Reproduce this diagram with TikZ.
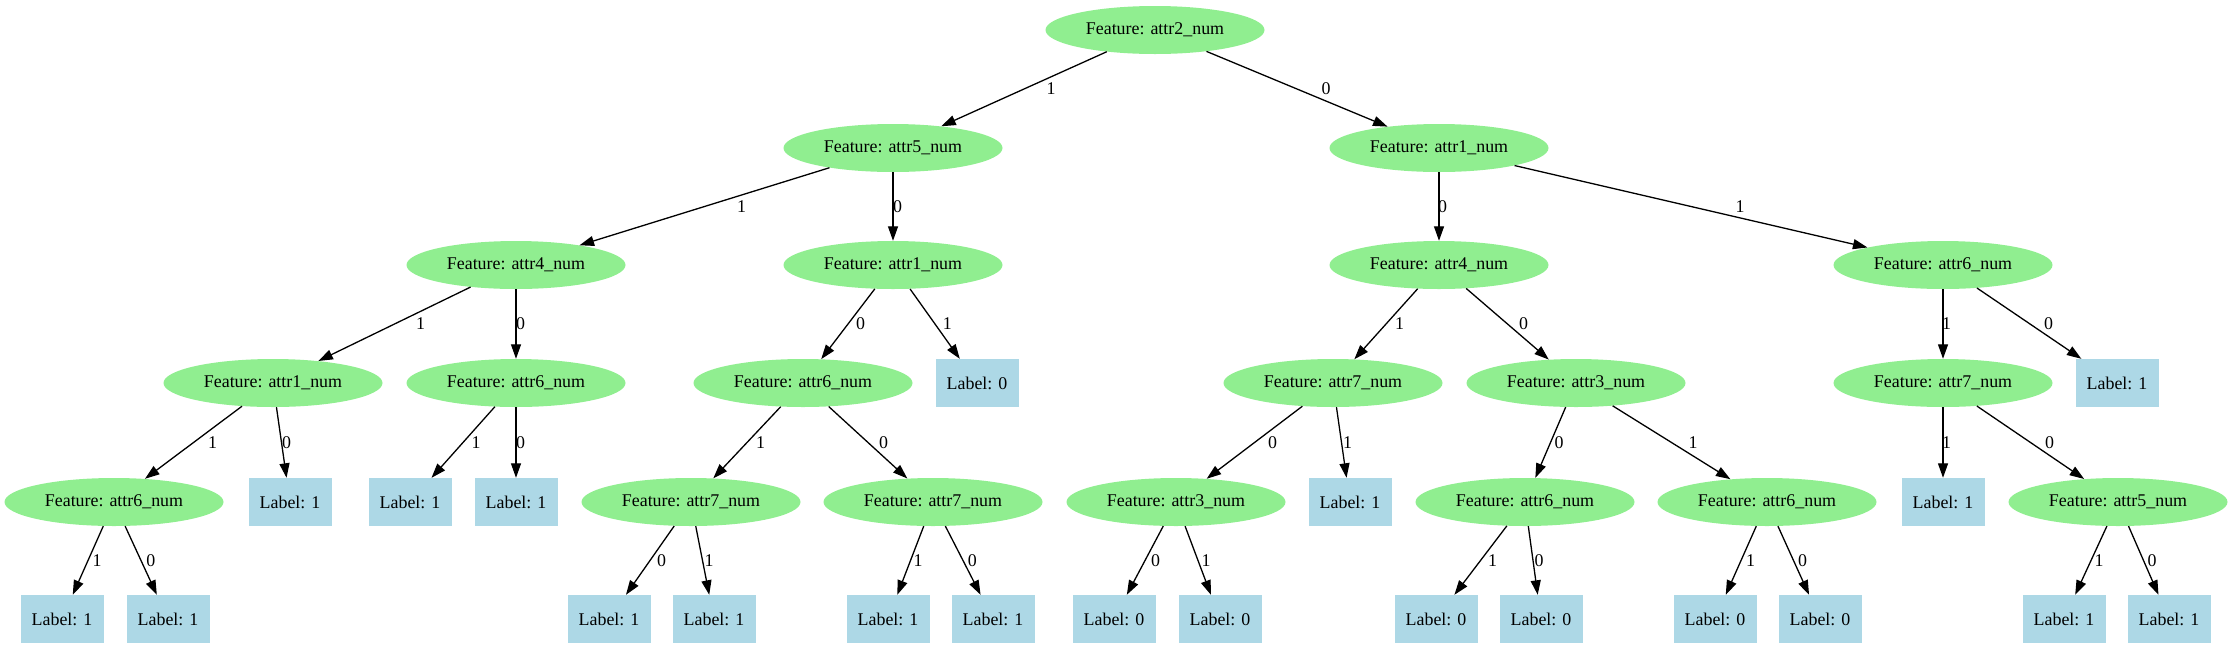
\documentclass[tikz,border=0pt]{standalone}
\usepackage{fontspec}
\setmainfont{Liberation Serif}
\usetikzlibrary{shapes.geometric,arrows.meta}
\definecolor{featgreen}{RGB}{144,238,144}
\definecolor{leafblue}{RGB}{173,216,230}
\tikzset{>={Triangle[length=14.5pt,width=10pt]}}
\tikzset{
  feat/.style={ellipse,fill=featgreen,minimum width=219pt,minimum height=48pt,inner sep=0pt},
  leaf/.style={rectangle,fill=leafblue,minimum width=83pt,minimum height=48pt,inner sep=0pt},
  edge/.style={->,line width=1.3pt},
  lbl/.style={inner sep=0pt,pos=0.5}
}

\begin{document}
\begin{tikzpicture}[x=1pt,y=-1pt,font=\fontsize{17.9}{21}\selectfont]
\useasboundingbox (0,0) rectangle (2232,649);
\node[feat] (r) at (1155,30) {Feature: attr2\_num};
\node[feat] (r1) at (893,148) {Feature: attr5\_num};
\node[feat] (r0) at (1439,148) {Feature: attr1\_num};
\node[feat] (r11) at (516,265) {Feature: attr4\_num};
\node[feat] (r10) at (893,265) {Feature: attr1\_num};
\node[feat] (r00) at (1439,265) {Feature: attr4\_num};
\node[feat] (r01) at (1943,265) {Feature: attr6\_num};
\node[feat] (r111) at (273,383) {Feature: attr1\_num};
\node[feat] (r110) at (516,383) {Feature: attr6\_num};
\node[feat] (r100) at (803,383) {Feature: attr6\_num};
\node[leaf] (r101) at (977,383) {Label: 0};
\node[feat] (r001) at (1333,383) {Feature: attr7\_num};
\node[feat] (r000) at (1576,383) {Feature: attr3\_num};
\node[feat] (r011) at (1943,383) {Feature: attr7\_num};
\node[leaf] (r010) at (2117,383) {Label: 1};
\node[feat] (r1111) at (114,502) {Feature: attr6\_num};
\node[leaf] (r1110) at (290,502) {Label: 1};
\node[leaf] (r1101) at (410,502) {Label: 1};
\node[leaf] (r1100) at (516,502) {Label: 1};
\node[feat] (r1001) at (691,502) {Feature: attr7\_num};
\node[feat] (r1000) at (933,502) {Feature: attr7\_num};
\node[feat] (r0010) at (1176,502) {Feature: attr3\_num};
\node[leaf] (r0011) at (1350,502) {Label: 1};
\node[feat] (r0000) at (1525,502) {Feature: attr6\_num};
\node[feat] (r0001) at (1767,502) {Feature: attr6\_num};
\node[leaf] (r0111) at (1943,502) {Label: 1};
\node[feat] (r0110) at (2118,502) {Feature: attr5\_num};
\node[leaf] (r11111) at (62,619) {Label: 1};
\node[leaf] (r11110) at (168,619) {Label: 1};
\node[leaf] (r10010) at (609,619) {Label: 1};
\node[leaf] (r10011) at (714,619) {Label: 1};
\node[leaf] (r10001) at (888,619) {Label: 1};
\node[leaf] (r10000) at (993,619) {Label: 1};
\node[leaf] (r00100) at (1114,619) {Label: 0};
\node[leaf] (r00101) at (1220,619) {Label: 0};
\node[leaf] (r00001) at (1436,619) {Label: 0};
\node[leaf] (r00000) at (1541,619) {Label: 0};
\node[leaf] (r00011) at (1715,619) {Label: 0};
\node[leaf] (r00010) at (1820,619) {Label: 0};
\node[leaf] (r01101) at (2064,619) {Label: 1};
\node[leaf] (r01100) at (2169,619) {Label: 1};
\draw[edge] (r) -- node[lbl,xshift=27pt] {1} (r1);
\draw[edge] (r) -- node[lbl,xshift=29pt] {0} (r0);
\draw[edge] (r1) -- node[lbl,xshift=37pt] {1} (r11);
\draw[edge] (r1) -- node[lbl,xshift=4.5pt] {0} (r10);
\draw[edge] (r0) -- node[lbl,xshift=3.5pt] {0} (r00);
\draw[edge] (r0) -- node[lbl,xshift=49pt] {1} (r01);
\draw[edge] (r11) -- node[lbl,xshift=26pt] {1} (r111);
\draw[edge] (r11) -- node[lbl,xshift=4.5pt] {0} (r110);
\draw[edge] (r10) -- node[lbl,xshift=12.5pt] {0} (r100);
\draw[edge] (r10) -- node[lbl,xshift=12.5pt] {1} (r101);
\draw[edge] (r00) -- node[lbl,xshift=13.5pt] {1} (r001);
\draw[edge] (r00) -- node[lbl,xshift=16pt] {0} (r000);
\draw[edge] (r01) -- node[lbl,xshift=3.5pt] {1} (r011);
\draw[edge] (r01) -- node[lbl,xshift=19.5pt] {0} (r010);
\draw[edge] (r111) -- node[lbl,xshift=19pt] {1} (r1111);
\draw[edge] (r111) -- node[lbl,xshift=5pt] {0} (r1110);
\draw[edge] (r110) -- node[lbl,xshift=13pt] {1} (r1101);
\draw[edge] (r110) -- node[lbl,xshift=4.5pt] {0} (r1100);
\draw[edge] (r100) -- node[lbl,xshift=13.5pt] {1} (r1001);
\draw[edge] (r100) -- node[lbl,xshift=15.5pt] {0} (r1000);
\draw[edge] (r001) -- node[lbl,xshift=18pt] {0} (r0010);
\draw[edge] (r001) -- node[lbl,xshift=6pt] {1} (r0011);
\draw[edge] (r000) -- node[lbl,xshift=8.5pt] {0} (r0000);
\draw[edge] (r000) -- node[lbl,xshift=21.5pt] {1} (r0001);
\draw[edge] (r011) -- node[lbl,xshift=3.5pt] {1} (r0111);
\draw[edge] (r011) -- node[lbl,xshift=19pt] {0} (r0110);
\draw[edge] (r1111) -- node[lbl,xshift=9pt] {1} (r11111);
\draw[edge] (r1111) -- node[lbl,xshift=10pt] {0} (r11110);
\draw[edge] (r1001) -- node[lbl,xshift=11.5pt] {0} (r10010);
\draw[edge] (r1001) -- node[lbl,xshift=6.5pt] {1} (r10011);
\draw[edge] (r1000) -- node[lbl,xshift=7.5pt] {1} (r10001);
\draw[edge] (r1000) -- node[lbl,xshift=9.5pt] {0} (r10000);
\draw[edge] (r0010) -- node[lbl,xshift=10.5pt] {0} (r00100);
\draw[edge] (r0010) -- node[lbl,xshift=8pt] {1} (r00101);
\draw[edge] (r0000) -- node[lbl,xshift=12pt] {1} (r00001);
\draw[edge] (r0000) -- node[lbl,xshift=6pt] {0} (r00000);
\draw[edge] (r0001) -- node[lbl,xshift=9.5pt] {1} (r00011);
\draw[edge] (r0001) -- node[lbl,xshift=9pt] {0} (r00010);
\draw[edge] (r0110) -- node[lbl,xshift=8pt] {1} (r01101);
\draw[edge] (r0110) -- node[lbl,xshift=8.5pt] {0} (r01100);
\end{tikzpicture}
\end{document}
